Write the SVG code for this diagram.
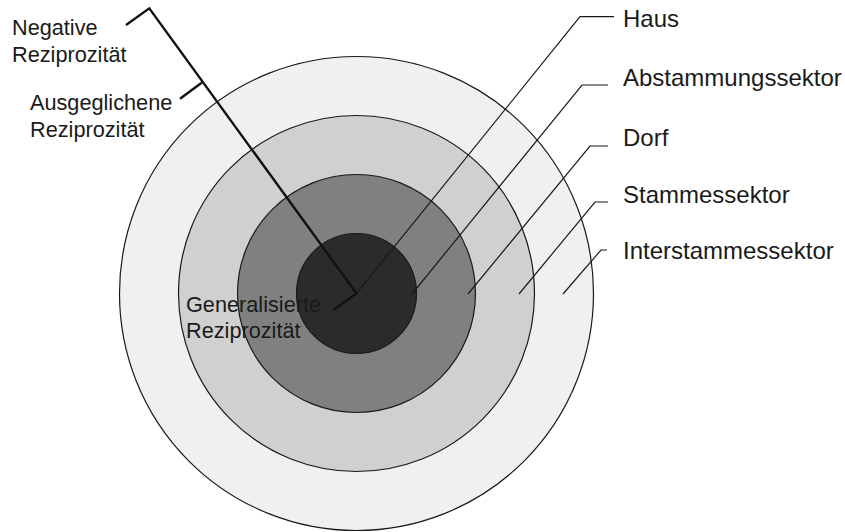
<svg xmlns="http://www.w3.org/2000/svg" width="845" height="532" viewBox="0 0 845 532">
<style>
.ring{stroke:#1a1a1a;stroke-width:1.2}
.thin{fill:none;stroke:#1a1a1a;stroke-width:1.2}
.thick{fill:none;stroke:#111;stroke-width:2.4}
.lbl{font-family:"Liberation Sans",Arial,sans-serif;fill:#1a1a1a}
.r{font-size:24px}
.l{font-size:21.7px}
</style>
<rect width="845" height="532" fill="#fff"/>
<g id="interstammessektor-ring"><circle class="ring" cx="356.5" cy="293.5" r="237" fill="#eff0ef"/></g>
<g id="stammessektor-ring"><circle class="ring" cx="356.5" cy="293.5" r="178" fill="#cfd0cf"/></g>
<g id="dorf-ring"><circle class="ring" cx="356.5" cy="293.5" r="119" fill="#808080"/></g>
<g id="haus-ring"><circle class="ring" cx="356.5" cy="293.5" r="60" fill="#2b2b2b"/></g>
<g id="connectors">
<polyline class="thin" points="356.5,293.5 580,16.7 614,16.7"/>
<polyline class="thin" points="412,294 582,85 608,85"/>
<polyline class="thin" points="468,294 590,146 608,146"/>
<polyline class="thin" points="519,294 595,202 608,202"/>
<polyline class="thin" points="563,294 601,250 607,250"/>
<polyline class="thick" points="126,25 149.3,8.3 356.5,293.5 333.3,310"/>
<line class="thick" x1="202" y1="82.5" x2="180" y2="98.7"/>
</g>
<g id="label-haus"><text class="lbl r" x="623" y="27">Haus</text></g>
<g id="label-abstammungssektor"><text class="lbl r" x="623" y="85.5">Abstammungssektor</text></g>
<g id="label-dorf"><text class="lbl r" x="623" y="146">Dorf</text></g>
<g id="label-stammessektor"><text class="lbl r" x="623" y="203">Stammessektor</text></g>
<g id="label-interstammessektor"><text class="lbl r" x="623" y="258.5">Interstammessektor</text></g>
<g id="label-negative"><text class="lbl l" x="12" y="35">Negative</text><text class="lbl l" x="12" y="62">Reziprozität</text></g>
<g id="label-ausgeglichene"><text class="lbl l" x="30" y="110">Ausgeglichene</text><text class="lbl l" x="30" y="137">Reziprozität</text></g>
<g id="label-generalisierte"><text class="lbl l" x="186" y="312">Generalisierte</text><text class="lbl l" x="186" y="338">Reziprozität</text></g>
</svg>
